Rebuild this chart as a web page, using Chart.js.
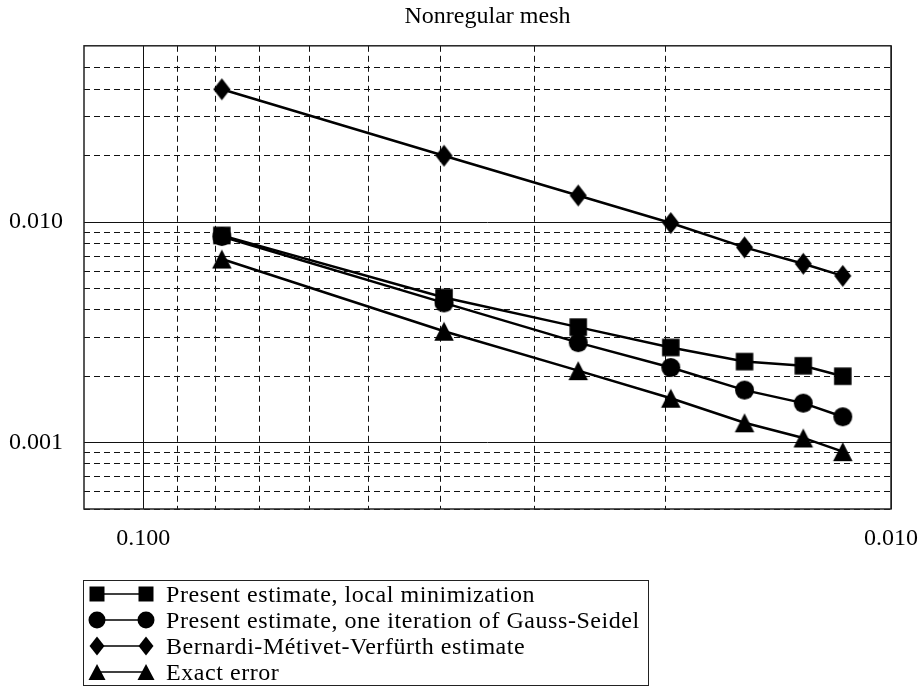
<!DOCTYPE html>
<html>
<head>
<meta charset="utf-8">
<title>Nonregular mesh</title>
<script src="https://cdn.jsdelivr.net/npm/chart.js@4.4.1/dist/chart.umd.min.js"></script>
<style>
    html, body { margin: 0; padding: 0; background: #fff; }
    #wrap { position: relative; width: 922px; height: 688px; overflow: hidden; }
    #chart { position: absolute; left: 0; top: 0; }
    #legend {
        position: absolute; left: 83px; top: 580px;
        border: 1.5px solid #222; background: #fff;
        padding: 0 8px 0 0;
        font-family: 'Liberation Serif', serif; font-size: 24px; letter-spacing: 0.55px; color: #000;
    }
    .legend-row { display: flex; align-items: center; height: 26px; white-space: nowrap; }
    .legend-row canvas { margin-right: 4px; }
</style>
</head>
<body>
<div id="wrap">
    <canvas id="chart" width="922" height="688"></canvas>
    <div id="legend"></div>
</div>
<script>
// ==========================
// DATA
// ==========================
const meshSize = [0.0785, 0.0396, 0.0262, 0.0197, 0.0157, 0.0131, 0.0116];

const localMinimization = [0.0087, 0.00455, 0.00334, 0.0027, 0.00233, 0.00223, 0.0020];
const gaussSeidel = [0.0086, 0.0043, 0.00284, 0.00219, 0.00173, 0.00151, 0.00131];
const bernardiEstimate = [0.040, 0.020, 0.0132, 0.0099, 0.00768, 0.00647, 0.0057];
const exactError = [0.0068, 0.0032, 0.00212, 0.00159, 0.00123, 0.00105, 0.00091];

const seriesNames = [
    'Present estimate, local minimization',
    'Present estimate, one iteration of Gauss-Seidel',
    'Bernardi-Métivet-Verfürth estimate',
    'Exact error'
];
const seriesValues = [localMinimization, gaussSeidel, bernardiEstimate, exactError];
const seriesMarkers = ['square', 'circle', 'diamond', 'triangle'];

// grid lines and the few labelled ticks
const xGridTicks = [0.01, 0.02, 0.03, 0.04, 0.05, 0.06, 0.07, 0.08, 0.09, 0.1];
const yGridTicks = [0.0005, 0.0006, 0.0007, 0.0008, 0.0009,
    0.001, 0.002, 0.003, 0.004, 0.005, 0.006, 0.007, 0.008, 0.009,
    0.01, 0.02, 0.03, 0.04, 0.05];
const xTickLabels = [0.1, 0.01];
const yTickLabels = [0.01, 0.001];

// ==========================
// MARKERS
// ==========================
const markerSize = {                 // width, height in the plot
    square: [17.5, 17.5],
    circle: [19, 19],
    diamond: [17, 22],
    triangle: [19.5, 19]
};
const legendMarkerSize = {
    square: [15, 15],
    circle: [17, 17],
    diamond: [15, 19],
    triangle: [17, 16]
};

function traceMarker(g, style, cx, cy, w, h) {
    g.beginPath();
    if (style === 'square') {
        g.rect(cx - w / 2, cy - h / 2, w, h);
    } else if (style === 'circle') {
        g.ellipse(cx, cy, w / 2, h / 2, 0, 0, Math.PI * 2);
    } else if (style === 'diamond') {
        g.moveTo(cx, cy - h / 2);
        g.lineTo(cx + w / 2, cy);
        g.lineTo(cx, cy + h / 2);
        g.lineTo(cx - w / 2, cy);
    } else {
        g.moveTo(cx, cy - h / 2);
        g.lineTo(cx + w / 2, cy + h / 2);
        g.lineTo(cx - w / 2, cy + h / 2);
    }
    g.closePath();
    g.fill();
}

function markerImage(style) {
    const [w, h] = markerSize[style];
    const c = document.createElement('canvas');
    c.width = Math.ceil(w) + 2;
    c.height = Math.ceil(h) + 2;
    const g = c.getContext('2d');
    g.fillStyle = '#000';
    traceMarker(g, style, c.width / 2, c.height / 2, w, h);
    return c;
}

const isDecade = v => v > 0 && Math.abs(Math.log10(v) - Math.round(Math.log10(v))) < 1e-9;
const tickFont = { family: "'Liberation Serif', serif", size: 24 };

// frame round the plot area
const plotFrame = {
    id: 'plotFrame',
    beforeDatasetsDraw(chart) {
        const { ctx, chartArea: a } = chart;
        ctx.save();
        ctx.strokeStyle = '#222';
        ctx.lineWidth = 1.5;
        ctx.strokeRect(a.left, a.top, a.right - a.left, a.bottom - a.top);
        ctx.restore();
    }
};

const gridOptions = {
    drawTicks: false,
    color: '#111',
    lineWidth: 1
};
const borderOptions = {
    display: false,
    dash: c => (c.tick && isDecade(c.tick.value)) ? [] : [6, 4]
};

// ==========================
// CHART
// ==========================
new Chart(document.getElementById('chart').getContext('2d'), {
    type: 'scatter',
    data: {
        datasets: seriesNames.map((name, i) => ({
            label: name,
            data: meshSize.map((h, j) => ({ x: h, y: seriesValues[i][j] })),
            showLine: true,
            tension: 0,
            borderColor: '#000',
            backgroundColor: '#000',
            borderWidth: 2.5,
            pointStyle: markerImage(seriesMarkers[i]),
            pointRadius: 10,
            pointHoverRadius: 10
        }))
    },
    options: {
        responsive: false,
        animation: false,
        events: [],
        layout: { padding: { left: 0, right: 31, top: 0, bottom: 120 } },
        plugins: {
            legend: { display: false },
            tooltip: { enabled: false },
            title: {
                display: true,
                fullSize: false,
                text: 'Nonregular mesh',
                color: '#000',
                font: { family: "'Liberation Serif', serif", size: 24, weight: 'normal' },
                padding: { top: 2, bottom: 15 }
            }
        },
        scales: {
            x: {
                type: 'logarithmic',
                reverse: true,
                min: 0.01,
                max: 0.12,
                afterBuildTicks: scale => { scale.ticks = xGridTicks.map(v => ({ value: v })); },
                afterFit: scale => { scale.height = 59; },
                grid: gridOptions,
                border: borderOptions,
                ticks: {
                    autoSkip: false,
                    maxRotation: 0,
                    padding: 15,
                    color: '#000',
                    font: tickFont,
                    callback: v => xTickLabels.includes(v) ? v.toFixed(3) : ''
                }
            },
            y: {
                type: 'logarithmic',
                min: 0.0005,
                max: 0.063,
                afterBuildTicks: scale => { scale.ticks = yGridTicks.map(v => ({ value: v })); },
                afterFit: scale => { scale.width = 84; },
                grid: gridOptions,
                border: borderOptions,
                ticks: {
                    autoSkip: false,
                    padding: 21,
                    color: '#000',
                    font: tickFont,
                    callback: v => yTickLabels.includes(v) ? v.toFixed(3) : ''
                }
            }
        }
    },
    plugins: [plotFrame]
});

// ==========================
// LEGEND (marker - line - marker, then text)
// ==========================
const legendBox = document.getElementById('legend');
seriesNames.forEach((name, i) => {
    const row = document.createElement('div');
    row.className = 'legend-row';
    const icon = document.createElement('canvas');
    icon.width = 78;
    icon.height = 26;
    const g = icon.getContext('2d');
    g.strokeStyle = '#000';
    g.fillStyle = '#000';
    g.lineWidth = 1.5;
    g.beginPath();
    g.moveTo(13, 13);
    g.lineTo(62, 13);
    g.stroke();
    const [w, h] = legendMarkerSize[seriesMarkers[i]];
    traceMarker(g, seriesMarkers[i], 13, 13, w, h);
    traceMarker(g, seriesMarkers[i], 62, 13, w, h);
    const label = document.createElement('span');
    label.textContent = name;
    row.appendChild(icon);
    row.appendChild(label);
    legendBox.appendChild(row);
});
</script>
</body>
</html>
